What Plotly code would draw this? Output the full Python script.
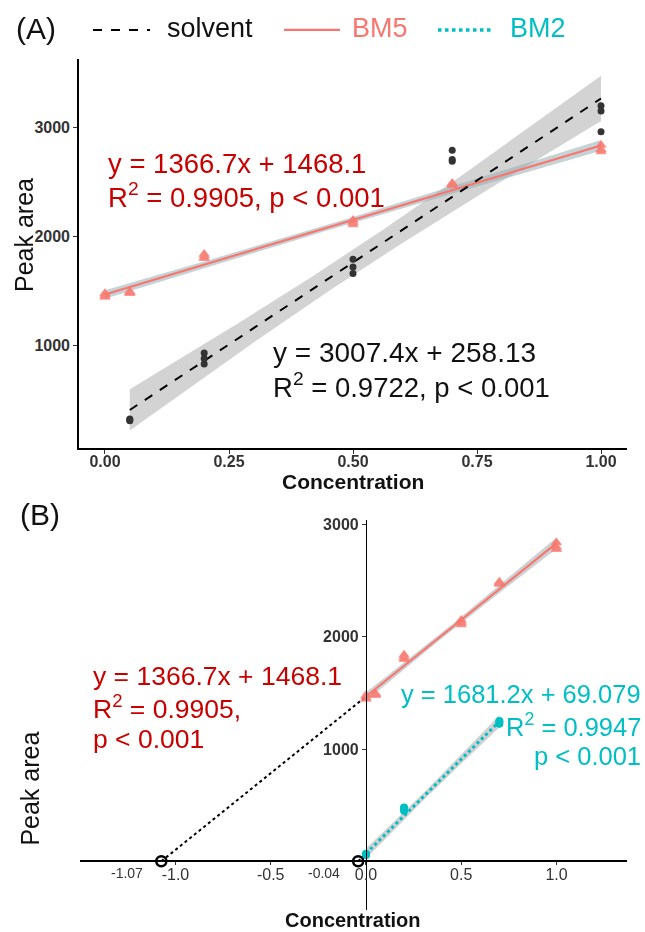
import numpy as np
import plotly.graph_objects as go

W, H = 645, 932
FONT = "Liberation Sans, Arial, Helvetica, sans-serif"

# ---------------- data ----------------
solvent_conc = [0.05, 0.05, 0.05, 0.2, 0.2, 0.2, 0.5, 0.5, 0.5, 0.7, 0.7, 0.7, 1.0, 1.0, 1.0]
solvent_area = [310, 318, 325, 830, 880, 930, 1660, 1720, 1790, 2690, 2705, 2790, 2960, 3150, 3200]

bm5_conc = [0, 0, 0, 0.05, 0.05, 0.05, 0.2, 0.2, 0.2, 0.5, 0.5, 0.5, 0.7, 0.7, 0.7, 1.0, 1.0, 1.0]
bm5_area = [1445, 1460, 1480, 1480, 1490, 1495, 1800, 1820, 1840, 2110, 2130, 2150, 2470, 2480, 2490, 2780, 2800, 2840]

bm2_conc = [0, 0, 0, 0.2, 0.2, 0.2, 0.7, 0.7, 0.7]
bm2_area = [55, 62, 68, 450, 465, 480, 1225, 1240, 1250]

# regression results (slope, intercept, R^2)
solvent_fit = (3007.4, 258.13, 0.9722)
bm5_fit = (1366.7, 1468.1, 0.9905)
bm2_fit = (1681.2, 69.079, 0.9947)

x_ticks_a = [0, 0.25, 0.5, 0.75, 1.0]
y_ticks = [1000, 2000, 3000]
x_ticks_b = [-1.0, -0.5, 0.0, 0.5, 1.0]

# two-sided 95% Student t quantiles by degrees of freedom
T975 = {7: 2.365, 13: 2.160, 16: 2.120}

COL_SOLV_PT = "#333333"
COL_BM5 = "#F8766D"
COL_BM2 = "#00BFC4"
COL_RED_TXT = "#C80000"


def px(x):
    return x / W


def py(y):
    return 1 - y / H


def ci_band(x, y, slope, icpt):
    x = np.asarray(x, float)
    y = np.asarray(y, float)
    n = len(x)
    resid = y - (slope * x + icpt)
    s = np.sqrt((resid ** 2).sum() / (n - 2))
    xb = x.mean()
    sxx = ((x - xb) ** 2).sum()
    grid = np.linspace(x.min(), x.max(), 80)
    fit = slope * grid + icpt
    half = T975[n - 2] * s * np.sqrt(1.0 / n + (grid - xb) ** 2 / sxx)
    return grid, fit - half, fit + half


def ribbon(x, y, fit, color, xa, ya):
    g, lo, hi = ci_band(x, y, fit[0], fit[1])
    return go.Scatter(
        x=np.concatenate([g, g[::-1]]), y=np.concatenate([lo, hi[::-1]]),
        fill="toself", fillcolor=color, line=dict(width=0), mode="lines",
        hoverinfo="skip", showlegend=False, xaxis=xa, yaxis=ya,
    )


def fit_line(x, fit, color, dash, width, xa, ya):
    xs = np.array([min(x), max(x)], float)
    return go.Scatter(
        x=xs, y=fit[0] * xs + fit[1], mode="lines",
        line=dict(color=color, dash=dash, width=width),
        showlegend=False, xaxis=xa, yaxis=ya,
    )


fig = go.Figure()

# ---------------- panel A ----------------
fig.add_trace(ribbon(solvent_conc, solvent_area, solvent_fit, "rgba(175,175,175,0.55)", "x", "y"))
fig.add_trace(ribbon(bm5_conc, bm5_area, bm5_fit, "rgba(150,175,180,0.55)", "x", "y"))
fig.add_trace(fit_line(bm5_conc, bm5_fit, COL_BM5, "solid", 2.2, "x", "y"))
fig.add_trace(fit_line(solvent_conc, solvent_fit, "#000000", "dash", 2, "x", "y"))
fig.add_trace(go.Scatter(x=solvent_conc, y=solvent_area, mode="markers",
                         marker=dict(color=COL_SOLV_PT, size=7), showlegend=False,
                         xaxis="x", yaxis="y"))
fig.add_trace(go.Scatter(x=bm5_conc, y=bm5_area, mode="markers",
                         marker=dict(color=COL_BM5, size=10, symbol="triangle-up"),
                         opacity=0.9, showlegend=False, xaxis="x", yaxis="y"))

# ---------------- panel B ----------------
bm5_x0 = -bm5_fit[1] / bm5_fit[0]
bm2_x0 = -bm2_fit[1] / bm2_fit[0]

fig.add_trace(go.Scatter(x=[bm5_x0, 0], y=[0, bm5_fit[1]], mode="lines",
                         line=dict(color="#000000", dash="dot", width=2),
                         showlegend=False, xaxis="x2", yaxis="y2"))
fig.add_trace(go.Scatter(x=[bm2_x0, 0], y=[0, bm2_fit[1]], mode="lines",
                         line=dict(color="#000000", dash="dot", width=2),
                         showlegend=False, xaxis="x2", yaxis="y2"))
fig.add_trace(ribbon(bm5_conc, bm5_area, bm5_fit, "rgba(170,180,182,0.6)", "x2", "y2"))
fig.add_trace(ribbon(bm2_conc, bm2_area, bm2_fit, "rgba(190,190,190,0.7)", "x2", "y2"))
fig.add_trace(fit_line(bm5_conc, bm5_fit, COL_BM5, "solid", 2.2, "x2", "y2"))
fig.add_trace(fit_line(bm2_conc, bm2_fit, COL_BM2, "dot", 3, "x2", "y2"))
fig.add_trace(go.Scatter(x=bm5_conc, y=bm5_area, mode="markers",
                         marker=dict(color=COL_BM5, size=10, symbol="triangle-up"),
                         opacity=0.9, showlegend=False, xaxis="x2", yaxis="y2"))
fig.add_trace(go.Scatter(x=bm2_conc, y=bm2_area, mode="markers",
                         marker=dict(color=COL_BM2, size=8), showlegend=False,
                         xaxis="x2", yaxis="y2"))
fig.add_trace(go.Scatter(x=[bm5_x0, bm2_x0], y=[0, 0], mode="markers",
                         marker=dict(symbol="circle-open", size=10, color="#000000",
                                     line=dict(width=2.5, color="#000000")),
                         showlegend=False, xaxis="x2", yaxis="y2", cliponaxis=False))

# ---------------- axes ----------------
tick_bold = dict(family=FONT, size=16, color="#333333", weight="bold")
tick_reg = dict(family=FONT, size=16, color="#333333")

fig.update_layout(
    width=W, height=H, margin=dict(l=0, r=0, t=0, b=0),
    paper_bgcolor="white", plot_bgcolor="white", showlegend=False,
    xaxis=dict(domain=[px(79), px(627)], range=[-0.0524, 1.0524],
               tickvals=x_ticks_a, ticktext=[f"{v:.2f}" for v in x_ticks_a],
               showline=True, linecolor="black", linewidth=1.6, ticks="outside",
               ticklen=4, tickcolor="#333333", tickfont=tick_bold, showgrid=False,
               zeroline=False, anchor="y", ticklabelstandoff=-6),
    yaxis=dict(domain=[py(446), py(55)], range=[59, 3630], tickvals=y_ticks,
               showline=True, linecolor="black", linewidth=1.6, ticks="outside",
               ticklen=4, tickcolor="#333333", tickfont=tick_bold, showgrid=False,
               zeroline=False, anchor="x"),
    xaxis2=dict(domain=[px(80), px(627)], range=[-1.501, 1.370],
                tickvals=x_ticks_b, ticktext=[f"{v:.1f}" for v in x_ticks_b],
                showline=True, linecolor="black", linewidth=1.6, ticks="outside",
                ticklen=3, tickcolor="#333333", tickfont=tick_reg, showgrid=False,
                zeroline=False, anchor="free", position=py(861), ticklabelstandoff=-4),
    yaxis2=dict(domain=[py(910), py(518)], range=[-435, 3043], tickvals=y_ticks,
                showline=True, linecolor="black", linewidth=1.2, ticks="outside",
                ticklen=4, tickcolor="#333333", tickfont=tick_bold, showgrid=False,
                zeroline=False, anchor="free", position=px(366)),
)

# ---------------- text ----------------
ann = []


def text(x, y, s, size, color, xanchor="left", weight="normal", angle=0):
    ann.append(dict(x=px(x), y=py(y), xref="paper", yref="paper", text=s,
                    showarrow=False, xanchor=xanchor, yanchor="middle",
                    textangle=angle,
                    font=dict(family=FONT, size=size, color=color, weight=weight)))


def eq(fit):
    return f"y = {fit[0]:.1f}x + {fit[1]:g}"


def r2(fit):
    return f"R<sup>2</sup> = {fit[2]:.4f}"


# panel labels
text(14, 25, "(A)", 30, "#111111")
text(18, 513, "(B)", 30, "#111111")

# legend
legend_items = [
    (93, 150, "#000000", "dash", 2, "solvent", "#111111", 165),
    (284, 340, COL_BM5, "solid", 2.2, "BM5", COL_BM5, 350),
    (438, 494, COL_BM2, "dot", 3.5, "BM2", COL_BM2, 508),
]
shapes = []
for x0, x1, col, dash, w, label, tcol, tx in legend_items:
    shapes.append(dict(type="line", xref="paper", yref="paper", x0=px(x0), x1=px(x1),
                       y0=py(26), y1=py(26), line=dict(color=col, dash=dash, width=w)))
    text(tx, 24, label, 27, tcol)
fig.update_layout(shapes=shapes)

# panel A equations
text(106, 160, eq(bm5_fit), 27.5, COL_RED_TXT)
text(106, 192, r2(bm5_fit) + ", p &lt; 0.001", 27.5, COL_RED_TXT)
text(271, 350, eq(solvent_fit), 28, "#111111")
text(271, 383, r2(solvent_fit) + ", p &lt; 0.001", 27.5, "#111111")

# panel B equations
text(91, 675, eq(bm5_fit), 26.5, COL_RED_TXT)
text(91, 706, r2(bm5_fit) + ",", 26.5, COL_RED_TXT)
text(91, 738, "p &lt; 0.001", 26.5, COL_RED_TXT)
text(643, 693, eq(bm2_fit), 25.5, COL_BM2, xanchor="right")
text(643, 724, r2(bm2_fit), 25.5, COL_BM2, xanchor="right")
text(643, 755, "p &lt; 0.001", 25.5, COL_BM2, xanchor="right")

# x-intercept labels
text(127, 873, f"{bm5_x0:.2f}", 14, "#333333", xanchor="center")
text(324, 873, f"{bm2_x0:.2f}", 14, "#333333", xanchor="center")

# axis titles
text(353, 480, "Concentration", 21, "#111111", xanchor="center", weight="bold")
text(353, 920, "Concentration", 20, "#111111", xanchor="center", weight="bold")
text(24, 232, "Peak area", 25, "#111111", xanchor="center", angle=-90)
text(30, 788, "Peak area", 25, "#111111", xanchor="center", angle=-90)

fig.update_layout(annotations=ann)

fig.write_html("out.html")
